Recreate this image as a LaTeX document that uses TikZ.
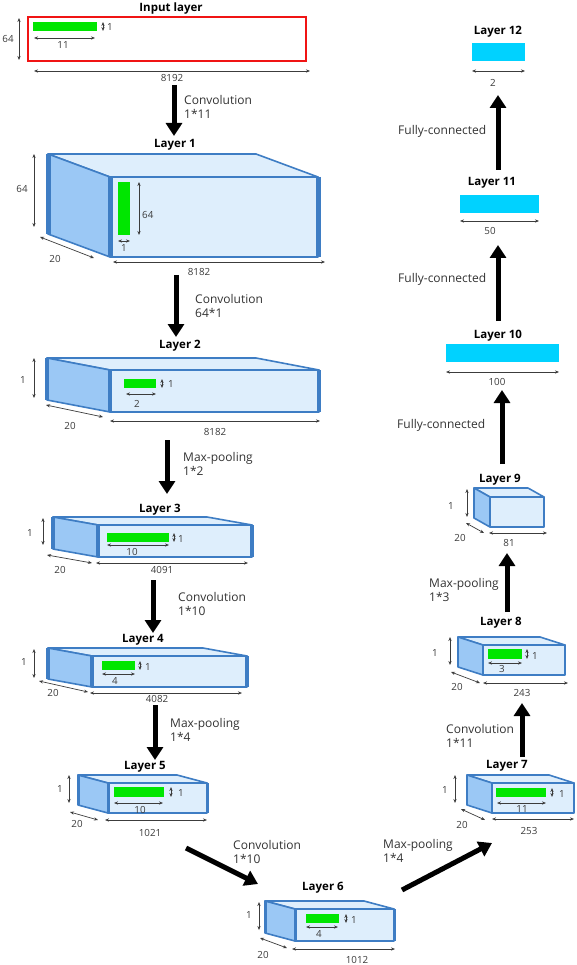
\documentclass[tikz,border=0pt]{standalone}
\usepackage{fontspec}
\setmainfont{Open Sans}
\usetikzlibrary{arrows.meta}
\definecolor{boxedge}{RGB}{62,125,196}
\definecolor{sidefill}{RGB}{155,200,245}
\definecolor{frontfill}{RGB}{222,238,252}
\definecolor{barfill}{RGB}{0,230,0}
\definecolor{fcfill}{RGB}{0,210,255}
\definecolor{dimgray}{RGB}{60,60,60}
\definecolor{inred}{RGB}{240,20,20}
\tikzset{
  dimline/.style={draw=dimgray, line width=0.7pt, {Stealth[length=4pt,width=3.2pt]}-{Stealth[length=4pt,width=3.2pt]}},
  dimlabel/.style={text=dimgray, font=\fontsize{9.8}{11}\selectfont, inner sep=0pt},
  layertitle/.style={font=\bfseries\fontsize{11.5}{13}\selectfont, inner sep=0pt},
  oplabel/.style={font=\fontsize{12}{14}\selectfont, text=black!80, inner sep=0pt, anchor=west, align=left},
  flow/.style={line width=5pt, -{Triangle[width=16pt,length=13pt]}},
  faceline/.style={draw=boxedge, line width=1.6pt, line join=round},
  greenbar/.style={fill=barfill},
  fcbar/.style={fill=fcfill}
}
% #1 x1, #2 y1, #3 x2, #4 y2 (front face), #5 dx, #6 dy (depth offset), #7 thick edge width
\newcommand\cnnbox[7]{%
  \filldraw[fill=frontfill, faceline] (#1,#2) -- (#3,#2) -- ({#3+#5},{#2+#6}) -- ({#1+#5},{#2+#6}) -- cycle;
  \filldraw[fill=sidefill, faceline] (#1,#2) -- ({#1+#5},{#2+#6}) -- ({#1+#5},{#4+#6}) -- (#1,#4) -- cycle;
  \filldraw[fill=frontfill, faceline] (#1,#2) rectangle (#3,#4);
  \draw[boxedge, line width=#7] ({#1+#5},{#2+#6}) -- ({#1+#5},{#4+#6});
  \draw[boxedge, line width=#7] (#1,#2) -- (#1,#4);
  \draw[boxedge, line width=#7] (#3,#2) -- (#3,#4);
}
\begin{document}
\begin{tikzpicture}[x=1pt,y=-1pt]
\useasboundingbox[fill=white] (0,0) rectangle (576,965);

% ---------------- Input layer ----------------
\node[layertitle] (tIn) at (171,9) {Input layer};
\draw[draw=inred, line width=1.6pt] (28,17) rectangle (306,61);
\fill[greenbar] (33,22) rectangle (97,31);
\draw[dimline] (103,22) -- (103,31);
\node[dimlabel] (dIn1) at (110,27) {1};
\draw[dimline] (34,38) -- (95,38);
\node[dimlabel] (dIn11) at (63,45) {11};
\draw[dimline] (19,18) -- (19,60);
\node[dimlabel] (dIn64) at (8,39) {64};
\draw[dimline] (34,71) -- (310,71);
\node[dimlabel] (dIn8192) at (172,78) {8192};

% ---------------- Layer 1 ----------------
\node[layertitle] (t1) at (175,145) {Layer 1};
\cnnbox{110}{177}{318}{257}{-62}{-23}{5pt}
\fill[greenbar] (118,182) rectangle (130,235);
\draw[dimline] (139,182) -- (139,235);
\node[dimlabel, anchor=west] (d1a) at (142,215) {64};
\draw[dimline] (118,241) -- (130,241);
\node[dimlabel] (d1b) at (124,248) {1};
\draw[dimline] (34,154) -- (34,227);
\node[dimlabel] (d1c) at (22,189) {64};
\draw[dimline] (40,237) -- (94,258);
\node[dimlabel] (d1d) at (55,259) {20};
\draw[dimline] (113,262) -- (325,262);
\node[dimlabel] (d1e) at (199,272) {8182};

% ---------------- Layer 2 ----------------
\node[layertitle] (t2) at (180,346) {Layer 2};
\cnnbox{110}{370}{319}{412}{-63}{-12}{4pt}
\fill[greenbar] (124,379) rectangle (156,388);
\draw[dimline] (162,379) -- (162,388);
\node[dimlabel] (d2a) at (171,384) {1};
\draw[dimline] (126,394) -- (156,394);
\node[dimlabel] (d2b) at (137,404) {2};
\draw[dimline] (34,358) -- (34,398);
\node[dimlabel] (d2c) at (23,380) {1};
\draw[dimline] (46,405) -- (103,417);
\node[dimlabel] (d2d) at (70,426) {20};
\draw[dimline] (110,421) -- (320,421);
\node[dimlabel] (d2e) at (215,432) {8182};

% ---------------- Layer 3 ----------------
\node[layertitle] (t3) at (160,510) {Layer 3};
\cnnbox{98}{525}{252}{557}{-45}{-8}{4pt}
\fill[greenbar] (107,533) rectangle (169,542);
\draw[dimline] (174,533) -- (174,542);
\node[dimlabel] (d3a) at (181,539) {1};
\draw[dimline] (107,545) -- (169,545);
\node[dimlabel] (d3b) at (132,552) {10};
\draw[dimline] (43,518) -- (43,545);
\node[dimlabel] (d3c) at (30,533) {1};
\draw[dimline] (47,555) -- (92,563);
\node[dimlabel] (d3d) at (60,570) {20};
\draw[dimline] (96,563) -- (248,563);
\node[dimlabel] (d3e) at (162,570) {4091};

% ---------------- Layer 4 ----------------
\node[layertitle] (t4) at (143,640) {Layer 4};
\cnnbox{92}{656}{247}{687}{-44}{-8}{3.5pt}
\fill[greenbar] (102,661) rectangle (135,670);
\draw[dimline] (140,661) -- (140,670);
\node[dimlabel] (d4a) at (148,667) {1};
\draw[dimline] (102,674) -- (135,674);
\node[dimlabel] (d4b) at (115,681) {4};
\draw[dimline] (34,649) -- (34,678);
\node[dimlabel] (d4c) at (24,662) {1};
\draw[dimline] (39,681) -- (88,692);
\node[dimlabel] (d4d) at (53,693) {20};
\draw[dimline] (90,693) -- (242,693);
\node[dimlabel] (d4e) at (157,699) {4082};

% ---------------- Layer 5 ----------------
\node[layertitle] (t5) at (145,767) {Layer 5};
\cnnbox{108}{783}{207}{813}{-30}{-8}{3pt}
\fill[greenbar] (114,787) rectangle (164,797);
\draw[dimline] (171,787) -- (171,797);
\node[dimlabel] (d5a) at (181,793) {1};
\draw[dimline] (114,803) -- (163,803);
\node[dimlabel] (d5b) at (140,810) {10};
\draw[dimline] (69,775) -- (69,803);
\node[dimlabel] (d5c) at (60,789) {1};
\draw[dimline] (70,812) -- (98,820);
\node[dimlabel] (d5d) at (77,824) {20};
\draw[dimline] (105,820) -- (207,820);
\node[dimlabel] (d5e) at (150,833) {1021};

% ---------------- Layer 6 ----------------
\node[layertitle] (t6) at (323,888) {Layer 6};
\cnnbox{295}{909}{394}{941}{-30}{-8}{3pt}
\fill[greenbar] (306,914) rectangle (339,923);
\draw[dimline] (346,914) -- (346,923);
\node[dimlabel] (d6a) at (354,920) {1};
\draw[dimline] (306,927) -- (338,927);
\node[dimlabel] (d6b) at (319,934) {4};
\draw[dimline] (259,902) -- (259,930);
\node[dimlabel] (d6c) at (249,915) {1};
\draw[dimline] (260,938) -- (287,948);
\node[dimlabel] (d6d) at (263,955) {20};
\draw[dimline] (292,949) -- (395,949);
\node[dimlabel] (d6e) at (357,960) {1012};

% ---------------- Layer 7 ----------------
\node[layertitle] (t7) at (507,766) {Layer 7};
\cnnbox{492}{783}{574}{813}{-25}{-8}{2.5pt}
\fill[greenbar] (496,788) rectangle (546,797);
\draw[dimline] (552,788) -- (552,797);
\node[dimlabel] (d7a) at (562,794) {1};
\draw[dimline] (497,803) -- (546,803);
\node[dimlabel] (d7b) at (522,809) {11};
\draw[dimline] (455,775) -- (455,803);
\node[dimlabel] (d7c) at (445,790) {1};
\draw[dimline] (461,809) -- (485,820);
\node[dimlabel] (d7d) at (462,825) {20};
\draw[dimline] (492,819) -- (574,819);
\node[dimlabel] (d7e) at (529,831) {253};

% ---------------- Layer 8 ----------------
\node[layertitle] (t8) at (501,623) {Layer 8};
\cnnbox{483}{645}{565}{675}{-25}{-8}{2.5pt}
\fill[greenbar] (488,649) rectangle (522,659);
\draw[dimline] (527,649) -- (527,659);
\node[dimlabel] (d8a) at (535,656) {1};
\draw[dimline] (488,663) -- (522,663);
\node[dimlabel] (d8b) at (502,669) {3};
\draw[dimline] (450,637) -- (450,665);
\node[dimlabel] (d8c) at (435,653) {1};
\draw[dimline] (451,672) -- (480,683);
\node[dimlabel] (d8d) at (457,687) {20};
\draw[dimline] (483,683) -- (568,683);
\node[dimlabel] (d8e) at (522,693) {243};

% ---------------- Layer 9 ----------------
\node[layertitle] (t9) at (500,480) {Layer 9};
\cnnbox{490}{497}{544}{527}{-16}{-9}{2pt}
\draw[dimline] (467,489) -- (467,517);
\node[dimlabel] (d9c) at (451,506) {1};
\draw[dimline] (466,523) -- (484,533);
\node[dimlabel] (d9d) at (460,538) {20};
\draw[dimline] (489,533) -- (547,533);
\node[dimlabel] (d9e) at (509,543) {81};

% ---------------- Layers 10-12 ----------------
\node[layertitle] (t10) at (498,336) {Layer 10};
\fill[fcbar] (446,344) rectangle (559,362);
\draw[dimline] (446,372) -- (559,372);
\node[dimlabel] (d10) at (497,382) {100};

\node[layertitle] (t11) at (492,183) {Layer 11};
\fill[fcbar] (460,195) rectangle (539,213);
\draw[dimline] (460,221) -- (539,221);
\node[dimlabel] (d11) at (490,231) {50};

\node[layertitle] (t12) at (498,32) {Layer 12};
\fill[fcbar] (472,43) rectangle (525,61);
\draw[dimline] (472,71) -- (525,71);
\node[dimlabel] (d12) at (493,83) {2};

% ---------------- flow arrows ----------------
\coordinate (a1s) at (174,85);  \coordinate (a1e) at (174,136);
\coordinate (a2s) at (176,275); \coordinate (a2e) at (176,337);
\coordinate (a3s) at (167,440); \coordinate (a3e) at (167,494);
\coordinate (a4s) at (153,580); \coordinate (a4e) at (153,633);
\coordinate (a5s) at (155,705); \coordinate (a5e) at (155,760);
\coordinate (a6s) at (186,848); \coordinate (a6e) at (258,884);
\coordinate (a7s) at (402,890); \coordinate (a7e) at (492,843);
\coordinate (a8s) at (522,757); \coordinate (a8e) at (522,703);
\coordinate (a9s) at (507,612); \coordinate (a9e) at (507,553);
\coordinate (a10s) at (502,464); \coordinate (a10e) at (502,390);
\coordinate (a11s) at (498,321); \coordinate (a11e) at (498,245);
\coordinate (a12s) at (498,170); \coordinate (a12e) at (498,95);
\foreach \i in {1,...,12} { \draw[flow] (a\i s) -- (a\i e); }

\node[oplabel] (o1) at (184,107) {Convolution\\1*11};
\node[oplabel] (o2) at (195,306) {Convolution\\64*1};
\node[oplabel] (o3) at (183,464) {Max-pooling\\1*2};
\node[oplabel] (o4) at (178,604) {Convolution\\1*10};
\node[oplabel] (o5) at (170,730) {Max-pooling\\1*4};
\node[oplabel] (o6) at (233,852) {Convolution\\1*10};
\node[oplabel] (o7) at (383,851) {Max-pooling\\1*4};
\node[oplabel] (o8) at (446,736) {Convolution\\1*11};
\node[oplabel] (o9) at (429,590) {Max-pooling\\1*3};
\node[oplabel] (o10) at (397,425) {Fully-connected};
\node[oplabel] (o11) at (398,279) {Fully-connected};
\node[oplabel] (o12) at (398,131) {Fully-connected};
\end{tikzpicture}
\end{document}
